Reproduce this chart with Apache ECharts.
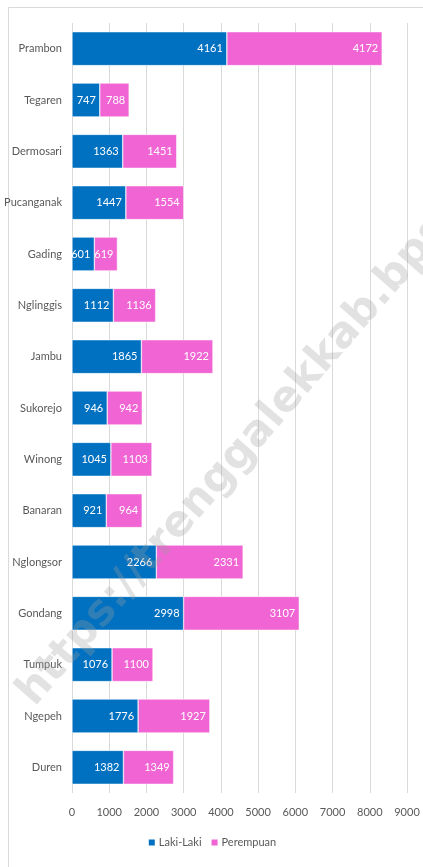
<!DOCTYPE html>
<html><head><meta charset="utf-8">
<script src="https://cdn.jsdelivr.net/npm/echarts@6/dist/echarts.min.js"></script>
<style>html,body{margin:0;padding:0;background:#fff}#c{width:423px;height:867px}</style>
</head><body><div id="c"></div>
<script>
const categories = ["Prambon","Tegaren","Dermosari","Pucanganak","Gading","Nglinggis","Jambu","Sukorejo","Winong","Banaran","Nglongsor","Gondang","Tumpuk","Ngepeh","Duren"];
const lakiLaki = [4161,747,1363,1447,601,1112,1865,946,1045,921,2266,2998,1076,1776,1382];
const perempuan = [4172,788,1451,1554,619,1136,1922,942,1103,964,2331,3107,1100,1927,1349];
const seriesNames = ["Laki-Laki","Perempuan"];
const FONT = "Lato, 'Liberation Sans', sans-serif";
const chart = echarts.init(document.getElementById('c'), null, {renderer:'canvas'});
const lbl = {show:true, position:'insideRight', color:'#fff', fontFamily:FONT, fontSize:11, distance:4};
chart.setOption({
  animation:false,
  textStyle:{fontFamily:FONT},
  grid:{left:72, right:16, top:23, bottom:74, containLabel:false},
  xAxis:{type:'value', min:0, max:9000, interval:1000,
    axisLine:{show:false}, axisTick:{show:false},
    splitLine:{lineStyle:{color:'#d9d9d9', width:1}},
    axisLabel:{color:'#595959', fontSize:11, fontFamily:FONT, margin:14, formatter:v=>String(v)}},
  yAxis:{type:'category', data:categories, inverse:true,
    axisLine:{show:false}, axisTick:{show:false},
    axisLabel:{color:'#595959', fontSize:11, fontFamily:FONT, margin:10}},
  legend:{bottom:14, left:'center', itemWidth:8, itemHeight:8, itemGap:8, icon:'rect',
    textStyle:{color:'#595959', fontSize:11, fontFamily:FONT, padding:[0,0,0,-2]}},
  series:[
    {name:seriesNames[0], type:'bar', stack:'t', data:lakiLaki, barWidth:'66%',
     itemStyle:{color:'#0070C0', borderColor:'#fff', borderWidth:0.5}, label:lbl},
    {name:seriesNames[1], type:'bar', stack:'t', data:perempuan, barWidth:'66%',
     itemStyle:{color:'#F064D4', borderColor:'#fff', borderWidth:0.5}, label:lbl}
  ],
  graphic:[
    {type:'rect', left:6, top:5, shape:{width:417, height:870}, style:{fill:'none', stroke:'#d9d9d9', lineWidth:1}, z:0},
    {type:'text', x:26, y:700, rotation:Math.PI*49/180, z:100, silent:true,
     style:{text:'https://trenggalekkab.bps.go.id', fill:'rgba(160,160,160,0.3)', font:"bold 43px 'DejaVu Sans', sans-serif", textVerticalAlign:'middle'}}
  ]
});
</script></body></html>
